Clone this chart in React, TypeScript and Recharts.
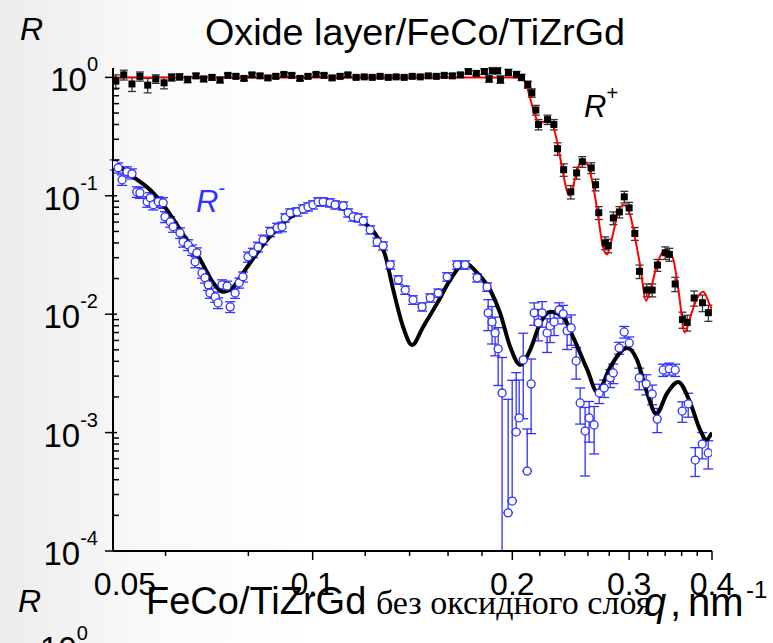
import React from "react";
import { ComposedChart, Line, Scatter, XAxis, YAxis, ErrorBar } from "recharts";

// R+ (spin up) measured points
const plusQ = [
  0.0505, 0.0519, 0.0534, 0.0549, 0.0564, 0.058, 0.0597, 0.0613, 0.063, 0.0648,
  0.0667, 0.0685, 0.0705, 0.0725, 0.0745, 0.0766, 0.0788, 0.081, 0.0833, 0.0856,
  0.088, 0.0905, 0.093, 0.0957, 0.0984, 0.1012, 0.104, 0.107, 0.11, 0.113,
  0.1163, 0.1196, 0.123, 0.1264, 0.13, 0.1336, 0.1374, 0.1413, 0.1453, 0.1494,
  0.1536, 0.1579, 0.1624, 0.167, 0.1717, 0.1765, 0.1815, 0.1845, 0.1866, 0.19,
  0.1919, 0.1973, 0.2029, 0.2065,
  0.211, 0.214, 0.217, 0.219, 0.226, 0.231, 0.234, 0.239, 0.245, 0.25,
  0.255, 0.263, 0.267, 0.27, 0.276, 0.279, 0.284, 0.29, 0.295, 0.3,
  0.306, 0.311, 0.319, 0.325, 0.331, 0.34, 0.345, 0.352, 0.361, 0.367,
  0.376, 0.387, 0.395,
];
const plusR = [
  0.93, 1.05, 0.88, 1.02, 0.86, 0.97, 0.9, 1.0, 1.01, 0.96,
  1.03, 0.97, 1.0, 0.95, 1.04, 1.02, 0.98, 1.05, 1.03, 0.99,
  1.02, 1.06, 1.04, 0.98, 1.02, 1.06, 1.04, 0.99, 1.02, 1.05,
  1.0, 1.01, 1.0, 1.02, 1.0, 1.01, 1.0, 1.02, 1.01, 1.03,
  1.02, 1.04, 1.03, 1.05, 1.12, 1.08, 1.12, 0.97, 1.14, 1.14,
  0.96, 1.1, 1.06, 1.0,
  0.87, 0.74, 0.53, 0.4, 0.44, 0.4, 0.25, 0.166, 0.108, 0.156,
  0.194, 0.172, 0.124, 0.072, 0.04, 0.038, 0.065, 0.073, 0.098, 0.079,
  0.048, 0.023, 0.016, 0.016, 0.026, 0.033, 0.032, 0.018, 0.009, 0.0085,
  0.0137, 0.0125, 0.0103,
];
const plusErr = [
  0.12, 0.1, 0.12, 0.09, 0.12, 0.08, 0.1, 0.07, 0.06, 0.06,
  0.05, 0.05, 0.05, 0.05, 0.04, 0.04, 0.04, 0.04, 0.04, 0.04,
  0.04, 0.04, 0.04, 0.04, 0.04, 0.04, 0.04, 0.04, 0.04, 0.04,
  0.03, 0.03, 0.03, 0.03, 0.03, 0.03, 0.03, 0.03, 0.03, 0.03,
  0.03, 0.03, 0.04, 0.04, 0.05, 0.05, 0.06, 0.06, 0.07, 0.07,
  0.07, 0.07, 0.06, 0.06,
  0.06, 0.06, 0.05, 0.04, 0.04, 0.04, 0.03, 0.02, 0.014, 0.018,
  0.02, 0.018, 0.014, 0.009, 0.005, 0.005, 0.008, 0.008, 0.011, 0.009,
  0.006, 0.003, 0.002, 0.002, 0.003, 0.004, 0.004, 0.0025, 0.0014, 0.0013,
  0.002, 0.002, 0.0016,
];

// R+ fit curve
const plusFitQ = [
  0.05, 0.1, 0.15, 0.2, 0.2056, 0.209, 0.211, 0.214, 0.217, 0.219,
  0.2226, 0.226, 0.2297, 0.2338, 0.238, 0.242, 0.2445, 0.2488, 0.253, 0.2557,
  0.26, 0.265, 0.2695, 0.274, 0.278, 0.283, 0.288, 0.294, 0.301, 0.306,
  0.312, 0.318, 0.323, 0.331, 0.34, 0.349, 0.356, 0.364, 0.371, 0.38,
  0.388, 0.398, 0.4,
];
const plusFitR = [
  1.0, 1.0, 1.0, 1.0, 0.99, 0.92, 0.79, 0.59, 0.46, 0.41,
  0.42, 0.44, 0.41, 0.28, 0.166, 0.108, 0.1, 0.142, 0.19, 0.2,
  0.18, 0.119, 0.066, 0.037, 0.032, 0.045, 0.069, 0.084, 0.069, 0.045,
  0.025, 0.013, 0.016, 0.027, 0.035, 0.03, 0.016, 0.007, 0.0095, 0.0137,
  0.0155, 0.0116, 0.011,
];

// R- (spin down) measured points
const minusQ = [
  0.0503, 0.0509, 0.0516, 0.0525, 0.0534, 0.0543, 0.0549, 0.0563, 0.0569, 0.0575,
  0.0585, 0.0595, 0.0599, 0.061, 0.0616, 0.0631, 0.0638, 0.0649, 0.0658, 0.0665,
  0.0669, 0.0681, 0.0688, 0.0696, 0.07, 0.0713, 0.072, 0.073, 0.0743, 0.0751,
  0.0764, 0.0775, 0.0785, 0.0799, 0.0813, 0.0827, 0.0842, 0.0863, 0.0884, 0.0899,
  0.0909, 0.0925, 0.0947, 0.0967, 0.0984, 0.1001, 0.1019, 0.1037, 0.1062, 0.1081,
  0.1112, 0.1131, 0.1151, 0.1171, 0.1192, 0.1221, 0.1251, 0.1277, 0.1309, 0.1346,
  0.1379, 0.1417, 0.1462, 0.1504, 0.1546, 0.1595, 0.1651, 0.1698, 0.177, 0.1832,
  0.1839, 0.1864, 0.1884, 0.1904, 0.193, 0.1971, 0.1999, 0.2027, 0.2048, 0.2077,
  0.2106, 0.2135, 0.2158, 0.2188, 0.2218, 0.2257, 0.228, 0.2312, 0.2353, 0.2386,
  0.2419, 0.2453, 0.2496, 0.2531, 0.2575, 0.2611, 0.2657, 0.2704, 0.2751, 0.2809,
  0.2839, 0.2898, 0.2949, 0.3001, 0.3107, 0.3183, 0.325, 0.3307, 0.3377, 0.3448,
  0.352, 0.3607, 0.3683, 0.3774, 0.3866, 0.3948,
];
const minusR = [
  0.183, 0.1725, 0.1365, 0.1596, 0.1535, 0.108, 0.106, 0.089, 0.0962, 0.0839,
  0.089, 0.0873, 0.0664, 0.0603, 0.0547, 0.0486, 0.0408, 0.0385, 0.0349, 0.0277,
  0.033, 0.0223, 0.0203, 0.0177, 0.0151, 0.014, 0.01245, 0.0177, 0.0173, 0.01153,
  0.0151, 0.0184, 0.0207, 0.0305, 0.033, 0.037, 0.0425, 0.0496, 0.0536, 0.0547,
  0.0652, 0.0718, 0.0732, 0.0776, 0.0807, 0.0839, 0.089, 0.089, 0.0873, 0.0839,
  0.0822, 0.0718, 0.0664, 0.0652, 0.0615, 0.0516, 0.0408, 0.0378, 0.0261, 0.0195,
  0.016, 0.0132, 0.01153, 0.01374, 0.0151, 0.0207, 0.0261, 0.0261, 0.0203, 0.017,
  0.01026, 0.0086, 0.00695, 0.0051, 0.00216, 0.00021, 0.000264, 0.00101, 0.00133, 0.00411,
  0.000473, 0.00258, 0.01026, 0.00845, 0.01026, 0.00695, 0.00796, 0.0086, 0.01087, 0.01007,
  0.00723, 0.00766, 0.00403, 0.00178, 0.00103, 0.00133, 0.00116, 0.00216, 0.00238, 0.0029,
  0.00319, 0.00519, 0.00708, 0.00572, 0.0029, 0.00258, 0.00212, 0.0013, 0.00338, 0.00346,
  0.00338, 0.00152, 0.00175, 0.000586, 0.0008, 0.000673,
];
const minusErr = [
  0.018, 0.017, 0.014, 0.016, 0.015, 0.011, 0.011, 0.009, 0.01, 0.008,
  0.009, 0.009, 0.007, 0.006, 0.0055, 0.005, 0.004, 0.004, 0.0035, 0.003,
  0.0033, 0.0022, 0.002, 0.0018, 0.0015, 0.0014, 0.0013, 0.0018, 0.0017, 0.0012,
  0.0015, 0.0018, 0.002, 0.003, 0.003, 0.0035, 0.004, 0.0045, 0.005, 0.005,
  0.0052, 0.0057, 0.0059, 0.0062, 0.0065, 0.0067, 0.0071, 0.0071, 0.007, 0.0067,
  0.0066, 0.0057, 0.0053, 0.0052, 0.0049, 0.0041, 0.0033, 0.003, 0.0021, 0.0016,
  0.0013, 0.0011, 0.0009, 0.0011, 0.0012, 0.0017, 0.0021, 0.0021, 0.0016, 0.0014,
  0.003, 0.003, 0.0025, 0.0026, 0.00215, 0.0017, 0.0025, 0.0022, 0.00145, 0.0028,
  0.0006, 0.0016, 0.0022, 0.0025, 0.0025, 0.0022, 0.0022, 0.002, 0.0016, 0.0018,
  0.0022, 0.0022, 0.0012, 0.0006, 0.0006, 0.0005, 0.0005, 0.0004, 0.0004, 0.0005,
  0.0006, 0.0006, 0.0008, 0.0007, 0.0006, 0.0005, 0.0004, 0.0003, 0.0004, 0.0004,
  0.0004, 0.0003, 0.0004, 0.00016, 0.0002, 0.00018,
];

// R- fit curve
const minusFitQ = [
  0.05, 0.0536, 0.0569, 0.0603, 0.0638, 0.0677, 0.0708, 0.0732, 0.0759, 0.0797,
  0.0854, 0.0915, 0.0981, 0.1034, 0.11, 0.1179, 0.1251, 0.1286, 0.1323, 0.1369,
  0.1412, 0.1467, 0.1541, 0.1612, 0.1698, 0.177, 0.1852, 0.1917, 0.1985, 0.2055,
  0.2128, 0.2203, 0.2281, 0.2385, 0.247, 0.2594, 0.2686, 0.281, 0.298, 0.3084,
  0.3194, 0.3296, 0.3424, 0.3557, 0.371, 0.384, 0.392, 0.4,
];
const minusFitR = [
  0.194, 0.145, 0.112, 0.076, 0.047, 0.0288, 0.0184, 0.0155, 0.017, 0.0251,
  0.0425, 0.0627, 0.0807, 0.0871, 0.0807, 0.0627, 0.045, 0.0316, 0.016, 0.0078,
  0.0055, 0.0078, 0.0124, 0.0195, 0.0271, 0.0223, 0.016, 0.0102, 0.0053, 0.00373,
  0.005, 0.0084, 0.0105, 0.0095, 0.0064, 0.0034, 0.0022, 0.00358, 0.0052, 0.0041,
  0.00216, 0.00144, 0.00216, 0.00268, 0.00178, 0.00105, 0.00087, 0.001,
];

const xTicks = [0.05, 0.06, 0.08, 0.1, 0.12, 0.14, 0.16, 0.18, 0.2, 0.22, 0.24, 0.26, 0.28, 0.3, 0.32, 0.34, 0.36, 0.38, 0.4];
const xTickLabels = ["0.05", "", "", "0.1", "", "", "", "", "0.2", "", "", "", "", "0.3", "", "", "", "", "0.4"];
const yTicks = [
  0.0001, 0.0002, 0.0003, 0.0004, 0.0005, 0.0006, 0.0007, 0.0008, 0.0009,
  0.001, 0.002, 0.003, 0.004, 0.005, 0.006, 0.007, 0.008, 0.009,
  0.01, 0.02, 0.03, 0.04, 0.05, 0.06, 0.07, 0.08, 0.09,
  0.1, 0.2, 0.3, 0.4, 0.5, 0.6, 0.7, 0.8, 0.9, 1,
];
const yTickExp = ["-4", "", "", "", "", "", "", "", "", "-3", "", "", "", "", "", "", "", "", "-2", "", "", "", "", "", "", "", "", "-1", "", "", "", "", "", "", "", "", "0"];

const BLUE = "#3030ff";
const SANS = "'Liberation Sans', Arial, sans-serif";
const SERIF = "'Liberation Serif', 'Times New Roman', serif";

const withErr = (q: number[], r: number[], e: number[]) =>
  q.map((qv, i) => {
    const v = r[i];
    const s = e[i];
    const lo = s >= v ? 0 : Math.min(s, v - 0.0001);
    return { q: qv, r: v, err: [lo, s] };
  });

const plusData = withErr(plusQ, plusR, plusErr);
const minusData = withErr(minusQ, minusR, minusErr);
const plusFit = plusFitQ.map((q, i) => ({ q, r: plusFitR[i] }));
const minusFit = minusFitQ.map((q, i) => ({ q, r: minusFitR[i] }));

const XTick = (props: any) => {
  const { x, y, payload } = props;
  const i = xTicks.indexOf(payload.value);
  const label = xTickLabels[i];
  const major = label !== "";
  const dx = payload.value === 0.05 ? 12 : 0;
  return (
    <g>
      {payload.value !== 0.05 && (
        <line x1={x} x2={x} y1={y} y2={y + (major ? 9 : 5)} stroke="#000" strokeWidth={1.5} />
      )}
      {major && (
        <text x={x + dx} y={y + 44} textAnchor="middle" fontFamily={SANS} fontSize={32} fill="#000">
          {label}
        </text>
      )}
    </g>
  );
};

const YTick = (props: any) => {
  const { x, y, payload } = props;
  const i = yTicks.indexOf(payload.value);
  const exp = yTickExp[i];
  if (exp === "") {
    return <line x1={x} x2={x + 6} y1={y} y2={y} stroke="#000" strokeWidth={1.5} />;
  }
  return (
    <g>
      <line x1={x - 8} x2={x + 4} y1={y} y2={y} stroke="#000" strokeWidth={1.5} />
      <text x={x - 15} y={y + 14} textAnchor="end" fontFamily={SANS} fontSize={33} fill="#000">
        10
        <tspan dy={-20} fontSize={20}>{exp}</tspan>
      </text>
    </g>
  );
};

const Square = (p: any) => <rect x={p.cx - 3.5} y={p.cy - 3.5} width={7} height={7} fill="#000" />;
const OpenCircle = (p: any) => (
  <circle cx={p.cx} cy={p.cy} r={4} fill="#fff" stroke={BLUE} strokeWidth={1.3} />
);

export default function App() {
  return (
    <div
      style={{
        position: "absolute",
        left: 0,
        top: 0,
        width: 773,
        height: 643,
        overflow: "hidden",
        background: "linear-gradient(to right, #ececec 0%, #fafafa 20%, #ffffff 40%)",
      }}
    >
      <ComposedChart width={773} height={643} margin={{ top: 68, right: 61, bottom: 0, left: 0 }}>
        <XAxis
          dataKey="q"
          type="number"
          scale="log"
          domain={[0.05, 0.4]}
          allowDataOverflow
          ticks={xTicks}
          interval={0}
          height={92}
          tickSize={0}
          tickMargin={0}
          tickLine={false}
          axisLine={{ stroke: "#000", strokeWidth: 2 }}
          tick={<XTick />}
        />
        <YAxis
          dataKey="r"
          type="number"
          scale="log"
          domain={[0.0001, 1.2]}
          allowDataOverflow
          ticks={yTicks}
          interval={0}
          width={113}
          tickSize={0}
          tickMargin={0}
          tickLine={false}
          axisLine={{ stroke: "#000", strokeWidth: 2 }}
          tick={<YTick />}
        />
        <Scatter data={plusData} shape={<Square />} isAnimationActive={false}>
          <ErrorBar dataKey="err" direction="y" width={4} stroke="#333" strokeWidth={1.3} />
        </Scatter>
        <Line
          data={plusFit}
          dataKey="r"
          type="monotone"
          dot={false}
          stroke="#ff0000"
          strokeWidth={2}
          isAnimationActive={false}
        />
        <Scatter data={minusData} shape={<OpenCircle />} isAnimationActive={false}>
          <ErrorBar dataKey="err" direction="y" width={5} stroke={BLUE} strokeWidth={1.3} />
        </Scatter>
        <Line
          data={minusFit}
          dataKey="r"
          type="monotone"
          dot={false}
          stroke="#000"
          strokeWidth={4}
          isAnimationActive={false}
        />
      </ComposedChart>
      <svg
        width={773}
        height={643}
        style={{ position: "absolute", left: 0, top: 0, pointerEvents: "none" }}
      >
        <text x={20} y={40} fontFamily={SANS} fontStyle="italic" fontSize={32}>R</text>
        <text x={415} y={45} textAnchor="middle" fontFamily={SANS} fontSize={36} textLength={420} lengthAdjust="spacingAndGlyphs">
          Oxide layer/FeCo/TiZrGd
        </text>
        <text x={584} y={117} fontFamily={SANS} fontStyle="italic" fontSize={31}>
          R<tspan dy={-17} fontSize={20} fontStyle="normal">+</tspan>
        </text>
        <text x={196} y={212} fontFamily={SANS} fontStyle="italic" fontSize={31} fill={BLUE}>
          R<tspan dy={-17} fontSize={20} fontStyle="normal">-</tspan>
        </text>
        <text x={18} y={612} fontFamily={SANS} fontStyle="italic" fontSize={32}>R</text>
        <text x={146} y={614} fontFamily={SANS} fontSize={38}>FeCo/TiZrGd</text>
        <text x={376} y={614} fontFamily={SERIF} fontSize={34}>без оксидного слоя</text>
        <text x={644} y={616} fontFamily={SANS} fontStyle="italic" fontSize={40}>q</text>
        <text x={670} y={616} fontFamily={SANS} fontSize={40}>,</text>
        <text x={688} y={616} fontFamily={SANS} fontSize={40}>nm</text>
        <text x={746} y={598} fontFamily={SANS} fontSize={24}>-1</text>
        <text x={40} y={660} fontFamily={SANS} fontSize={33}>
          10<tspan dy={-20} fontSize={20}>0</tspan>
        </text>
      </svg>
    </div>
  );
}
